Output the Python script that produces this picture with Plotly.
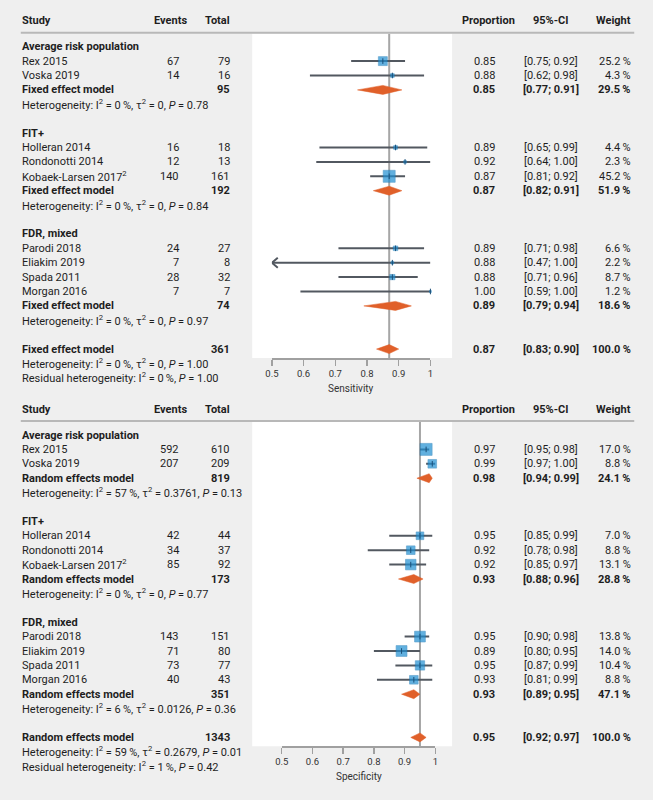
import plotly.graph_objects as go

W, H = 653, 800
FONT = "Roboto"
FS = 11
TXT = "#1e1e1e"

# ---------------- data ----------------
groups = ["Average risk population", "FIT+", "FDR, mixed"]
studies = ["Rex 2015", "Voska 2019", "Holleran 2014", "Rondonotti 2014",
           "Kobaek-Larsen 2017<sup>2</sup>", "Parodi 2018", "Eliakim 2019",
           "Spada 2011", "Morgan 2016"]
study_group = [0, 0, 1, 1, 1, 2, 2, 2, 2]

# Sensitivity (fixed effect)
sens_events = [67, 14, 16, 12, 140, 24, 7, 28, 7]
sens_total = [79, 16, 18, 13, 161, 27, 8, 32, 7]
sens_prop = [0.85, 0.88, 0.89, 0.92, 0.87, 0.89, 0.88, 0.88, 1.00]
sens_lo = [0.75, 0.62, 0.65, 0.64, 0.81, 0.71, 0.47, 0.71, 0.59]
sens_hi = [0.92, 0.98, 0.99, 1.00, 0.92, 0.98, 1.00, 0.96, 1.00]
sens_w = [25.2, 4.3, 4.4, 2.3, 45.2, 6.6, 2.2, 8.7, 1.2]
sens_sub_total = [95, 192, 74]
sens_sub_prop = [0.85, 0.87, 0.89]
sens_sub_lo = [0.77, 0.82, 0.79]
sens_sub_hi = [0.91, 0.91, 0.94]
sens_sub_w = [29.5, 51.9, 18.6]
sens_sub_het = ["I<sup>2</sup> = 0\u2009%, τ<sup>2</sup> = 0, <i>P</i> = 0.78",
                "I<sup>2</sup> = 0\u2009%, τ<sup>2</sup> = 0, <i>P</i> = 0.84",
                "I<sup>2</sup> = 0\u2009%, τ<sup>2</sup> = 0, <i>P</i> = 0.97"]
sens_all = dict(total=361, prop=0.87, lo=0.83, hi=0.90, w=100.0,
                het="I<sup>2</sup> = 0\u2009%, τ<sup>2</sup> = 0, <i>P</i> = 1.00",
                resid="I<sup>2</sup> = 0\u2009%, <i>P</i> = 1.00")

# Specificity (random effects)
spec_events = [592, 207, 42, 34, 85, 143, 71, 73, 40]
spec_total = [610, 209, 44, 37, 92, 151, 80, 77, 43]
spec_prop = [0.97, 0.99, 0.95, 0.92, 0.92, 0.95, 0.89, 0.95, 0.93]
spec_lo = [0.95, 0.97, 0.85, 0.78, 0.85, 0.90, 0.80, 0.87, 0.81]
spec_hi = [0.98, 1.00, 0.99, 0.98, 0.97, 0.98, 0.95, 0.99, 0.99]
spec_w = [17.0, 8.8, 7.0, 8.8, 13.1, 13.8, 14.0, 10.4, 8.8]
spec_sub_total = [819, 173, 351]
spec_sub_prop = [0.98, 0.93, 0.93]
spec_sub_lo = [0.94, 0.88, 0.89]
spec_sub_hi = [0.99, 0.96, 0.95]
spec_sub_w = [24.1, 28.8, 47.1]
spec_sub_het = ["I<sup>2</sup> = 57\u2009%, τ<sup>2</sup> = 0.3761, <i>P</i> = 0.13",
                "I<sup>2</sup> = 0\u2009%, τ<sup>2</sup> = 0, <i>P</i> = 0.77",
                "I<sup>2</sup> = 6\u2009%, τ<sup>2</sup> = 0.0126, <i>P</i> = 0.36"]
spec_all = dict(total=1343, prop=0.95, lo=0.92, hi=0.97, w=100.0,
                het="I<sup>2</sup> = 59\u2009%, τ<sup>2</sup> = 0.2679, <i>P</i> = 0.01",
                resid="I<sup>2</sup> = 1\u2009%, <i>P</i> = 0.42")

axis_ticks = [0.5, 0.6, 0.7, 0.8, 0.9, 1.0]
axis_ticktext = ["0.5", "0.6", "0.7", "0.8", "0.9", "1"]

panels = [
    dict(xa="x", axname="xaxis", base=46.7, dom=(269, 430), model="Fixed effect model",
         title="Sensitivity",
         events=sens_events, total=sens_total, prop=sens_prop, lo=sens_lo, hi=sens_hi, w=sens_w,
         sub_total=sens_sub_total, sub_prop=sens_sub_prop, sub_lo=sens_sub_lo,
         sub_hi=sens_sub_hi, sub_w=sens_sub_w, sub_het=sens_sub_het, all=sens_all),
    dict(xa="x2", axname="xaxis2", base=435.0, dom=(279, 435), model="Random effects model",
         title="Specificity",
         events=spec_events, total=spec_total, prop=spec_prop, lo=spec_lo, hi=spec_hi, w=spec_w,
         sub_total=spec_sub_total, sub_prop=spec_sub_prop, sub_lo=spec_sub_lo,
         sub_hi=spec_sub_hi, sub_w=spec_sub_w, sub_het=spec_sub_het, all=spec_all),
]

PITCH = 14.4
BLUE = "#1f8fd2"
LINEC = "#525860"
DIAM = "#e0602a"
REFC = "#a6a6a6"

fig = go.Figure()
ann = []
shapes = []


def txt(x, y, s, anchor="left", bold=False, size=FS):
    ann.append(dict(x=x / W, xref="paper", y=y, yref="y",
                    text=("<b>%s</b>" % s) if bold else s, showarrow=False,
                    xanchor=anchor, yanchor="middle", borderpad=0, borderwidth=0,
                    font=dict(family=FONT, size=size, color=TXT)))


def fmt_ci(lo, hi):
    return "[%.2f; %.2f]" % (lo, hi)


for p in panels:
    base = p["base"]
    y_of = lambda r: base + r * PITCH
    header_y = base - 26
    line_y = base - 14
    axis_y = base + 311.3
    xa = p["xa"]
    px_per = (p["dom"][1] - p["dom"][0]) / 0.5

    # header
    txt(15, header_y, "Study", bold=True)
    txt(183, header_y, "Events", "right", bold=True)
    txt(226, header_y, "Total", "right", bold=True)
    txt(516, header_y, "Proportion", "right", bold=True)
    txt(552.5, header_y, "95%-CI", "center", bold=True)
    txt(634, header_y, "Weight", "right", bold=True)
    shapes.append(dict(type="line", xref="paper", yref="y", x0=14 / W, x1=637 / W,
                       y0=line_y, y1=line_y, line=dict(color="#b8b8b8", width=2)))
    # white plotting panel
    shapes.append(dict(type="rect", xref="paper", yref="y", x0=249 / W, x1=452 / W,
                       y0=line_y + 1, y1=axis_y, fillcolor="white", line=dict(width=0),
                       layer="below"))
    # reference line at overall estimate
    shapes.append(dict(type="line", xref=xa, yref="y", x0=p["all"]["prop"], x1=p["all"]["prop"],
                       y0=line_y + 1, y1=axis_y, line=dict(color=REFC, width=2), layer="below"))

    r = 0
    ci_x, ci_y = [], []
    sq_x, sq_y, sq_s = [], [], []
    wmax = max(p["w"])
    for g, gname in enumerate(groups):
        txt(15, y_of(r), gname, bold=True)
        r += 1
        for i, sg in enumerate(study_group):
            if sg != g:
                continue
            y = y_of(r)
            txt(15, y, studies[i])
            txt(175, y, str(p["events"][i]), "right")
            txt(226, y, str(p["total"][i]), "right")
            txt(496, y, "%.2f" % p["prop"][i], "right")
            txt(552.5, y, fmt_ci(p["lo"][i], p["hi"][i]), "center")
            txt(634, y, "%.1f\u2009%%" % p["w"][i], "right")
            lo = max(p["lo"][i], axis_ticks[0])
            ci_x += [lo, p["hi"][i], None]
            ci_y += [y, y, None]
            if p["lo"][i] < axis_ticks[0]:
                dx = 6 / px_per
                fig.add_trace(go.Scatter(x=[lo + dx, lo, lo + dx], y=[y - 5, y, y + 5], xaxis=xa,
                                         mode="lines", line=dict(color=LINEC, width=2),
                                         cliponaxis=False, hoverinfo="skip", showlegend=False))
            sq_x.append(p["prop"][i])
            sq_y.append(y)
            sq_s.append(12 * (p["w"][i] / wmax) ** 0.5)
            r += 1
        y = y_of(r)
        txt(15, y, p["model"], bold=True)
        txt(226, y, str(p["sub_total"][g]), "right", bold=True)
        txt(496, y, "%.2f" % p["sub_prop"][g], "right", bold=True)
        txt(552.5, y, fmt_ci(p["sub_lo"][g], p["sub_hi"][g]), "center", bold=True)
        txt(634, y, "%.1f\u2009%%" % p["sub_w"][g], "right", bold=True)
        fig.add_trace(go.Scatter(
            x=[p["sub_lo"][g], p["sub_prop"][g], p["sub_hi"][g], p["sub_prop"][g], p["sub_lo"][g]],
            y=[y, y - 4.5, y, y + 4.5, y], xaxis=xa, mode="lines", fill="toself",
            fillcolor=DIAM, line=dict(color=DIAM, width=0.5), hoverinfo="skip", showlegend=False))
        r += 1
        txt(15, y_of(r), "Heterogeneity: " + p["sub_het"][g])
        r += 2
    # overall
    y = y_of(r)
    a = p["all"]
    txt(15, y, p["model"], bold=True)
    txt(226, y, str(a["total"]), "right", bold=True)
    txt(496, y, "%.2f" % a["prop"], "right", bold=True)
    txt(552.5, y, fmt_ci(a["lo"], a["hi"]), "center", bold=True)
    txt(634, y, "%.1f\u2009%%" % a["w"], "right", bold=True)
    fig.add_trace(go.Scatter(
        x=[a["lo"], a["prop"], a["hi"], a["prop"], a["lo"]],
        y=[y, y - 4.5, y, y + 4.5, y], xaxis=xa, mode="lines", fill="toself",
        fillcolor=DIAM, line=dict(color=DIAM, width=0.5), hoverinfo="skip", showlegend=False))
    txt(15, y_of(r + 1), "Heterogeneity: " + a["het"])
    txt(15, y_of(r + 2), "Residual heterogeneity: " + a["resid"])

    fig.add_trace(go.Scatter(x=ci_x, y=ci_y, xaxis=xa, mode="lines", cliponaxis=False,
                             line=dict(color=LINEC, width=2), hoverinfo="skip", showlegend=False))
    fig.add_trace(go.Scatter(x=sq_x, y=sq_y, xaxis=xa, mode="markers", cliponaxis=False,
                             marker=dict(symbol="square", size=sq_s, color=BLUE,
                                         line=dict(color="#1877b5", width=0.6)),
                             hoverinfo="skip", showlegend=False))
    fig.add_trace(go.Scatter(x=sq_x, y=sq_y, xaxis=xa, mode="markers", cliponaxis=False,
                             marker=dict(symbol="line-ns", size=4,
                                         line=dict(color="#1b4f78", width=1)),
                             hoverinfo="skip", showlegend=False))

    # axis
    fig.update_layout(**{p["axname"]: dict(
        domain=[p["dom"][0] / W, p["dom"][1] / W], range=[0.5, 1.0], anchor="free",
        position=(H - axis_y) / H, showline=True, linecolor="#a0a0a0", linewidth=1.5,
        ticks="outside", ticklen=6, tickwidth=1.5, tickcolor="#a0a0a0",
        tickvals=axis_ticks, ticktext=axis_ticktext, showgrid=False, zeroline=False,
        tickfont=dict(family=FONT, size=9.5, color="#333333"), fixedrange=True)})
    ann.append(dict(x=0.5, xref=xa + " domain", y=axis_y + 30, yref="y", text=p["title"],
                    showarrow=False, xanchor="center", yanchor="middle",
                    font=dict(family=FONT, size=10, color="#333333")))

fig.update_layout(
    width=W, height=H, margin=dict(l=0, r=0, t=0, b=0),
    paper_bgcolor="#efefef", plot_bgcolor="rgba(0,0,0,0)",
    yaxis=dict(domain=[0, 1], range=[H, 0], visible=False, fixedrange=True),
    annotations=ann, shapes=shapes, showlegend=False, hovermode=False,
)

fig.write_html("out.html", config={"displayModeBar": False, "staticPlot": True},
               post_script="document.body.style.margin='0';document.body.style.overflow='hidden';")
